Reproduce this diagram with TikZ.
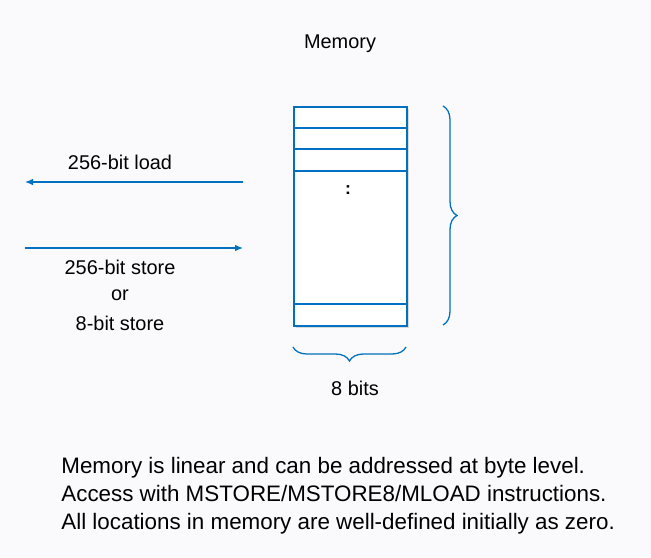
\documentclass[tikz,border=0pt]{standalone}
\usepackage{fontspec}
\setmainfont{Liberation Sans}
\usetikzlibrary{positioning, arrows.meta, decorations.pathreplacing, calc}
\definecolor{memblue}{RGB}{0,112,192}
\definecolor{paper}{RGB}{250,250,252}

\begin{document}
\begin{tikzpicture}[x=0.03cm, y=-0.03cm,
    cell/.style={draw=memblue, line width=1.6pt, fill=white, minimum width=3.39cm, inner sep=0pt},
    arr/.style={draw=memblue, line width=1.1pt, -{Latex[length=2.4mm, width=2mm]}},
    brc/.style={draw=memblue, line width=1.1pt, decorate, decoration={brace, amplitude=0.42cm}},
    lbl/.style={font=\fontsize{17}{19}\selectfont, inner sep=1pt}]
    \fill[paper] (0,0) rectangle (651,557);
    \useasboundingbox (0,0) rectangle (651,557);
    % memory block
    \fill[black!15] (296,109) rectangle (409,328);
    \node[cell, minimum height=6.57cm, anchor=north west] (mem) at (293,106) {};
    \draw[memblue, line width=1.6pt] (293,128) -- (406,128);
    \draw[memblue, line width=1.6pt] (293,149) -- (406,149);
    \draw[memblue, line width=1.6pt] (293,171) -- (406,171);
    \draw[memblue, line width=1.6pt] (293,304) -- (406,304);
    \node[font=\bfseries\fontsize{15}{16}\selectfont] (dots) at (348,190) {:};
    \node[lbl] (title) at (340,44) {Memory};
    % braces
    \draw[brc] (443,106) -- (443,325);
    \draw[brc] (406,347) -- (293,347);
    \node[lbl] (bits) at (355,388) {8 bits};
    % load and store
    \coordinate (ldR) at (243,182);
    \coordinate (ldL) at (25,182);
    \coordinate (stL) at (25,248);
    \coordinate (stR) at (243,248);
    \draw[arr] (ldR) -- (ldL);
    \draw[arr] (stL) -- (stR);
    \node[lbl] (load) at (120,162) {256-bit load};
    \node[lbl] (store) at (120,267) {256-bit store};
    \node[lbl] (or) [below=0.84cm of store.center, anchor=center] {or};
    \node[lbl] (store8) [below=0.84cm of or.center, anchor=center] {8-bit store};
    % notes
    \node[lbl, font=\fontsize{19.1}{23.8}\selectfont, anchor=west, align=left] (note) at (60,496)
        {Memory is linear and can be addressed at byte level.\\
         Access with MSTORE/MSTORE8/MLOAD instructions.\\
         All locations in memory are well-defined initially as zero.};
\end{tikzpicture}
\end{document}
